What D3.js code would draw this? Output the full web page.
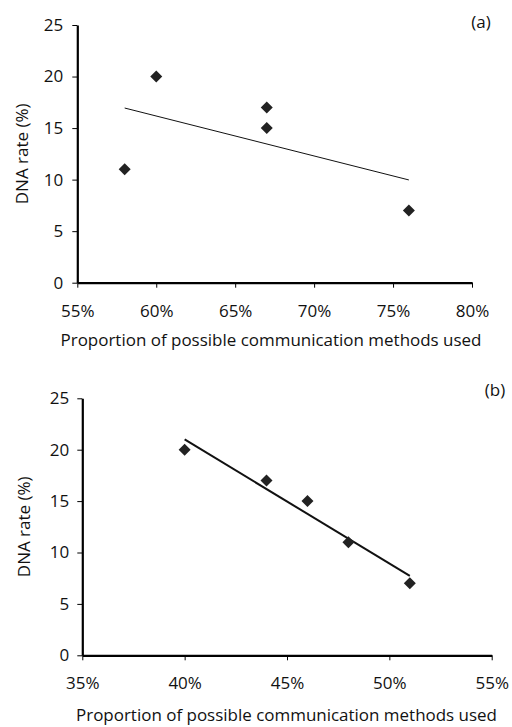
<!DOCTYPE html>
<html>
<head>
<meta charset="utf-8">
<script src="https://cdn.jsdelivr.net/npm/d3@7"></script>
<style>
body { margin: 0; background: #fff; }
text { font-family: "Open Sans", "Noto Sans", sans-serif; fill: #111; }
</style>
</head>
<body>
<svg id="chart" width="512" height="727"></svg>
<script>
// panel (a)
var propA = [0.58, 0.60, 0.67, 0.67, 0.76];
var dnaA = [11, 20, 17, 15, 7];
var xTicksA = [0.55, 0.60, 0.65, 0.70, 0.75, 0.80];

// panel (b)
var propB = [0.40, 0.44, 0.46, 0.48, 0.51];
var dnaB = [20, 17, 15, 11, 7];
var xTicksB = [0.35, 0.40, 0.45, 0.50, 0.55];

var yTicks = [0, 5, 10, 15, 20, 25];
var yLabel = "DNA rate (%)";
var xLabel = "Proportion of possible communication methods used";

var svg = d3.select("#chart");

// least squares line through the points
function fit(xs, ys){
  var mx = d3.mean(xs), my = d3.mean(ys);
  var sxy = 0, sxx = 0;
  for(var i = 0; i < xs.length; i++){
    sxy += (xs[i]-mx)*(ys[i]-my);
    sxx += (xs[i]-mx)*(xs[i]-mx);
  }
  var b = sxy/sxx;
  return function(x){ return my + b*(x-mx); };
}

function drawPanel(opt){
  var g = svg.append("g");
  var x = d3.scaleLinear().domain(opt.xDomain).range([opt.left, opt.right]);
  var y = d3.scaleLinear().domain([0, 25]).range([opt.bottom, opt.top]);

  var xAxis = g.append("g")
    .attr("transform", "translate(0," + opt.bottom + ")")
    .call(d3.axisBottom(x).tickValues(opt.xTicks).tickSize(5).tickSizeOuter(0).tickFormat(d3.format(".0%")));
  var yAxis = g.append("g")
    .attr("transform", "translate(" + opt.left + ",0)")
    .call(d3.axisLeft(y).tickValues(yTicks).tickSize(5).tickSizeOuter(0));

  [xAxis, yAxis].forEach(function(a){
    a.select(".domain").attr("stroke", "#000").attr("stroke-width", 2.2);
    a.selectAll(".tick line").attr("stroke", "#000").attr("stroke-width", 1);
    a.selectAll(".tick text").attr("font-size", 17).attr("fill", "#111")
      .style("font-family", '"Open Sans", sans-serif');
  });
  xAxis.selectAll(".tick text").attr("y", opt.xTickY);
  yAxis.selectAll(".tick text").attr("x", opt.yTickX);

  // trend line
  var f = fit(opt.xs, opt.ys);
  var x0 = d3.min(opt.xs), x1 = d3.max(opt.xs);
  g.append("line")
    .attr("x1", x(x0)).attr("y1", y(f(x0)))
    .attr("x2", x(x1)).attr("y2", y(f(x1)))
    .attr("stroke", "#111").attr("stroke-width", opt.lineW);

  // points
  var sym = d3.symbol().type(d3.symbolSquare).size(72);
  g.selectAll("path.pt")
    .data(opt.xs.map(function(d, i){ return {x: d, y: opt.ys[i]}; }))
    .enter().append("path")
    .attr("class", "pt")
    .attr("d", sym)
    .attr("fill", "#222")
    .attr("transform", function(d){ return "translate(" + x(d.x) + "," + y(d.y) + ") rotate(45)"; });

  g.append("text")
    .attr("transform", "translate(" + opt.yLabX + "," + ((opt.top + opt.bottom)/2) + ") rotate(-90)")
    .attr("text-anchor", "middle")
    .attr("dy", "0.35em")
    .attr("font-size", 17)
    .text(yLabel);

  g.append("text")
    .attr("x", opt.xLabX).attr("y", opt.xLabY)
    .attr("text-anchor", "middle")
    .attr("font-size", 17)
    .attr("textLength", 421)
    .attr("lengthAdjust", "spacingAndGlyphs")
    .text(xLabel);

  g.append("text")
    .attr("x", opt.tagX).attr("y", opt.tagY)
    .attr("text-anchor", "middle")
    .attr("font-size", 17)
    .text(opt.tag);
}

drawPanel({
  xs: propA, ys: dnaA, xDomain: [0.55, 0.80], xTicks: xTicksA,
  left: 77.3, right: 472, top: 25, bottom: 282.7,
  xTickY: 22, yTickX: -14, lineW: 1,
  yLabX: 22, xLabX: 271, xLabY: 346,
  tag: "(a)", tagX: 481, tagY: 28
});

drawPanel({
  xs: propB, ys: dnaB, xDomain: [0.35, 0.55], xTicks: xTicksB,
  left: 82.3, right: 491.7, top: 398.3, bottom: 655.3,
  xTickY: 22, yTickX: -13, lineW: 2,
  yLabX: 24.5, xLabX: 286.5, xLabY: 721,
  tag: "(b)", tagX: 495, tagY: 396
});
</script>
</body>
</html>
